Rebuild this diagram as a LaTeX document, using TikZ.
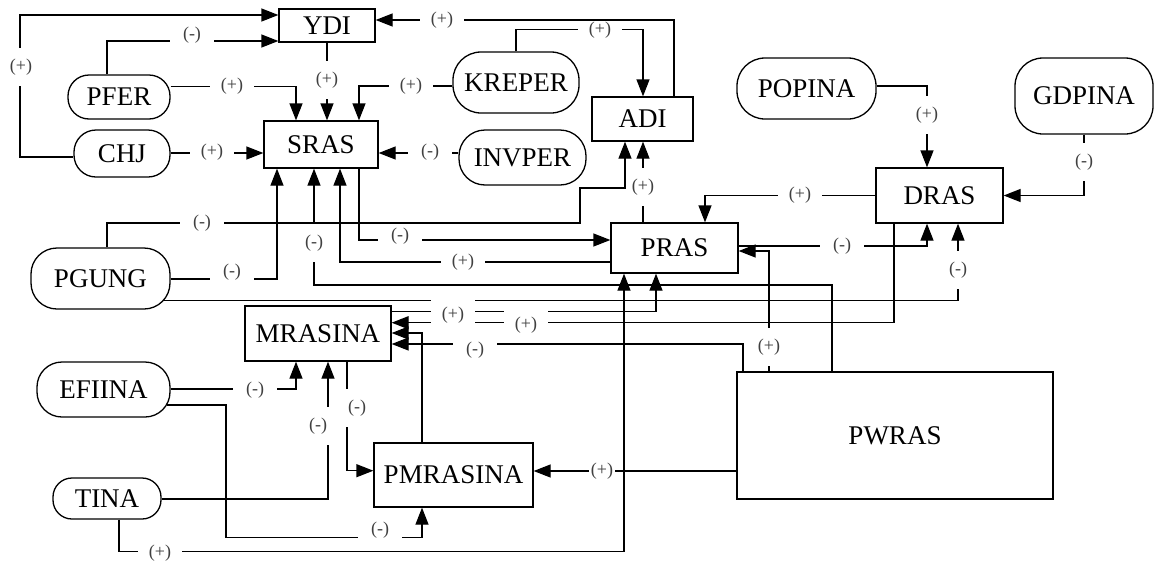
\documentclass[tikz,border=0pt]{standalone}
\usepackage{fontspec}
\setmainfont{Liberation Serif}
\usetikzlibrary{arrows.meta}
\tikzset{
  block/.style={draw,line width=1.3pt,inner sep=2pt,font=\fontsize{27}{30}\selectfont},
  term/.style={block,rounded corners=22pt},
  flow/.style={-{Triangle[length=17pt,width=13pt]},line width=1.3pt},
  sgn/.style={fill=white,inner sep=0pt,minimum width=44pt,minimum height=18pt,
    font=\fontsize{18}{18}\selectfont,text=black!75},
  vsgn/.style={sgn,minimum width=26pt,minimum height=38pt}
}
\begin{document}
\begin{tikzpicture}[x=1pt,y=-1pt]
\useasboundingbox (0,0) rectangle (1156,560);
\node[block,minimum width=96pt,minimum height=33pt] (YDI) at (327,25.5) {YDI};
\node[term,minimum width=102pt,minimum height=44pt,rounded corners=21pt] (PFER) at (119,97) {PFER};
\node[term,minimum width=96pt,minimum height=47pt] (CHJ) at (122,153.5) {CHJ};
\node[block,minimum width=114pt,minimum height=47pt] (SRAS) at (321,144.5) {SRAS};
\node[term,minimum width=126pt,minimum height=61pt,rounded corners=28pt] (KREPER) at (516,82.5) {KREPER};
\node[term,minimum width=127pt,minimum height=55pt,rounded corners=26pt] (INVPER) at (522.5,157.5) {INVPER};
\node[block,minimum width=101pt,minimum height=44pt] (ADI) at (642.5,119) {ADI};
\node[term,minimum width=139pt,minimum height=61pt,rounded corners=28pt] (POPINA) at (806.5,88.5) {POPINA};
\node[term,minimum width=138pt,minimum height=76pt,rounded corners=28pt] (GDPINA) at (1084,96) {GDPINA};
\node[block,minimum width=127pt,minimum height=55pt] (DRAS) at (939.5,195.5) {DRAS};
\node[block,minimum width=127pt,minimum height=50pt] (PRAS) at (674.5,248) {PRAS};
\node[term,minimum width=139pt,minimum height=61pt,rounded corners=26pt] (PGUNG) at (100.5,278.5) {PGUNG};
\node[block,minimum width=146pt,minimum height=55pt] (MRASINA) at (318,333.5) {MRASINA};
\node[term,minimum width=133pt,minimum height=55pt,rounded corners=25pt] (EFIINA) at (103.5,389.5) {EFIINA};
\node[term,minimum width=108pt,minimum height=41pt,rounded corners=19pt] (TINA) at (107,498.5) {TINA};
\node[block,minimum width=159pt,minimum height=64pt] (PMRASINA) at (453.5,475) {PMRASINA};
\node[block,minimum width=316pt,minimum height=127pt] (PWRAS) at (895,435.5) {PWRAS};

\draw[flow] (CHJ.west |- 0,157) -- (20,157) -- (20,15) -- (YDI.west |- 0,15);
\draw[flow] (PFER.north -| 107,0) -- (107,41) -- (YDI.west |- 0,41);
\draw[flow] (ADI.north -| 674,0) -- (674,20) -- (YDI.east |- 0,20);
\draw[flow] (YDI.south) -- (SRAS.north -| YDI.south);
\draw[flow] (PFER.east |- 0,86.7) -- (296,86.7) -- (SRAS.north -| 296,0);
\draw[flow] (KREPER.west |- 0,86) -- (359,86) -- (SRAS.north -| 359,0);
\draw[flow] (KREPER.north) -- (516,29.3) -- (643,29.3) -- (ADI.north -| 643,0);
\draw[flow] (CHJ.east |- 0,153) -- (SRAS.west |- 0,153);
\draw[flow] (INVPER.west |- 0,153) -- (SRAS.east |- 0,153);
\draw[flow] (PGUNG.east |- 0,279) -- (277,279) -- (SRAS.south -| 277,0);
\draw[flow] (PGUNG.north -| 107,0) -- (107,223) -- (580,223) -- (580,188) -- (625,188) -- (ADI.south -| 625,0);
\draw[flow] (PWRAS.north -| 832,0) -- (832,285) -- (314,285) -- (SRAS.south -| 314,0);
\draw[flow] (SRAS.south -| 359,0) -- (359,240) -- (PRAS.west |- 0,240);
\draw[flow] (PRAS.west |- 0,262) -- (340,262) -- (SRAS.south -| 340,0);
\draw[flow] (PRAS.north -| 643,0) -- (ADI.south -| 643,0);
\draw[flow] (DRAS.west) -- (705,195.5) -- (PRAS.north -| 705,0);
\draw[flow] (POPINA.east |- 0,86) -- (927,86) -- (DRAS.north -| 927,0);
\draw[flow] (GDPINA.south) -- (1084,195.5) -- (DRAS.east);
\draw[flow] (PRAS.east |- 0,246) -- (927,246) -- (DRAS.south -| 927,0);
\draw[flow] (PWRAS.north -| 769,0) -- (769,251) -- (PRAS.east |- 0,251);
\draw[flow] ([xshift=-8pt]PGUNG.east |- 0,300.7) -- (958,300.7) -- (DRAS.south -| 958,0);
\draw[flow] (DRAS.south -| 894,0) -- (894,322.7) -- (MRASINA.east |- 0,322.7);
\draw[flow] (MRASINA.east |- 0,311.7) -- (656,311.7) -- (PRAS.south -| 656,0);
\draw[flow] (PWRAS.north -| 743,0) -- (743,344) -- (MRASINA.east |- 0,344);
\draw[flow] (PMRASINA.north -| 422,0) -- (422,333) -- (MRASINA.east |- 0,333);
\draw[flow] (MRASINA.south -| 347,0) -- (347,470.7) -- (PMRASINA.west |- 0,470.7);
\draw[flow] (EFIINA.east |- 0,389) -- (296,389) -- (MRASINA.south -| 296,0);
\draw[flow] (TINA.east |- 0,499) -- (328,499) -- (MRASINA.south -| 328,0);
\draw[flow] ([xshift=-4pt]EFIINA.east |- 0,405) -- (226,405) -- (226,537.7) -- (422,537.7) -- (PMRASINA.south -| 422,0);
\draw[flow] (TINA.south -| 119,0) -- (119,551.7) -- (624,551.7) -- (PRAS.south -| 624,0);
\draw[flow] (PWRAS.west |- 0,471) -- (PMRASINA.east |- 0,471);

\node[vsgn] (s1) at (21,67) {(+)};
\node[sgn] (s2) at (192,35) {(-)};
\node[sgn] (s3) at (442,20) {(+)};
\node[vsgn] (s4) at (327,80) {(+)};
\node[sgn] (s5) at (232,86) {(+)};
\node[sgn] (s6) at (411,86) {(+)};
\node[sgn] (s7) at (600,30) {(+)};
\node[sgn] (s8) at (212,152) {(+)};
\node[sgn] (s9) at (430,152) {(-)};
\node[sgn] (s10) at (232,272) {(-)};
\node[sgn] (s11) at (202,223) {(-)};
\node[vsgn] (s12) at (314,243) {(-)};
\node[sgn] (s13) at (400,236) {(-)};
\node[sgn] (s14) at (463,262) {(+)};
\node[vsgn] (s15) at (643,187) {(+)};
\node[sgn] (s16) at (800,195) {(+)};
\node[vsgn] (s17) at (927,115) {(+)};
\node[vsgn] (s18) at (1084,162) {(-)};
\node[sgn] (s19) at (842,246) {(-)};
\node[vsgn] (s20) at (769,347) {(+)};
\node[vsgn] (s21) at (958,270) {(-)};
\node[sgn,minimum height=30pt] (s22) at (453,315) {(+)};
\node[sgn,minimum height=30pt] (s23) at (526,325) {(+)};
\node[sgn] (s24) at (475,350) {(-)};
\node[vsgn] (s25) at (357,408) {(-)};
\node[sgn] (s26) at (255,390) {(-)};
\node[vsgn] (s27) at (318,426) {(-)};
\node[sgn] (s28) at (380,530) {(-)};
\node[sgn] (s29) at (160,553) {(+)};
\node[vsgn] (s30) at (602,471) {(+)};
\end{tikzpicture}
\end{document}
